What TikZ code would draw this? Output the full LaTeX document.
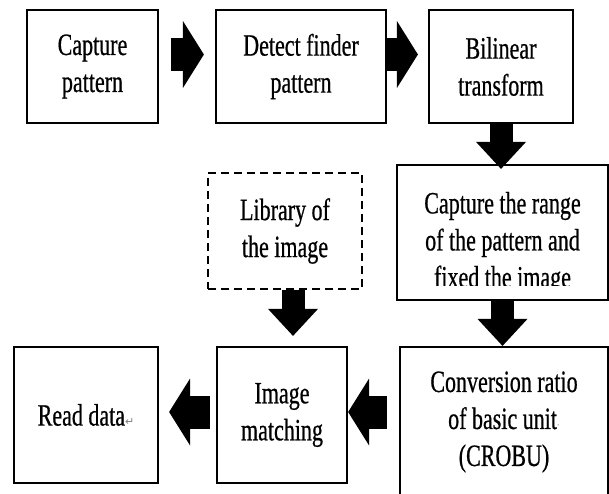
\documentclass[tikz,border=0pt]{standalone}
\usepackage{fontspec}
\usepackage{tikz}
\usetikzlibrary{arrows.meta}
\newfontfamily\boxfont[FakeStretch=0.71,FakeBold=0.6]{Liberation Serif}
\newfontfamily\markfont{DejaVu Sans}
\tikzstyle{blocktext}=[align=center
,font=\boxfont\fontsize{31}{37}\selectfont
]
\tikzstyle{block}=[draw, blocktext
,line width=2.2pt
,inner sep=0pt
]
\tikzstyle{dashblock}=[block, line width=2.2pt, dash pattern=on 8pt off 5pt]
% fat block arrows
\tikzstyle{hfat} = [draw, line width=33pt, -{Triangle[width=67pt,length=21pt,line width=0pt]}]
\tikzstyle{vfat} = [draw, line width=23pt, -{Triangle[width=50pt,length=27pt,line width=0pt]}]

\begin{document}
\begin{tikzpicture}[x=1pt,y=-1pt]
    \clip (0,0) rectangle (609,494);
    % First we draw the boxes
    \foreach \pos/\name/\bw/\bh/\txt in {{(92.5,66.5)/cap/131/113/{Capture\\pattern}},
        {(301,66.5)/detect/170/113/{Detect finder\\pattern}},
        {(501,66.5)/bilin/144/113/{Bilinear\\transform}},
        {(86,415)/read/144/136/{Read data{\markfont\color{gray}\fontsize{11}{11}\selectfont ↵}}},
        {(282,415)/match/130/136/{Image\\matching}},
        {(504,422)/conv/208/150/{Conversion ratio\\of basic unit{\markfont\color{gray}\fontsize{9}{9}\selectfont ·}\\(CROBU)}}}
        \node[block, minimum width=\bw pt, minimum height=\bh pt] (\name) at \pos {\txt};

    \node[dashblock, minimum width=154pt, minimum height=116pt] (lib) at (285,231) {Library of\\the image};

    % the third line runs under the box edge
    \node[block, minimum width=211pt, minimum height=135pt] (range) at (502.5,232.5) {};
    \begin{scope}
        \clip (397,165) rectangle (608,285);
        \node[blocktext] (rangetext) at (502.5,243) {Capture the range\\of the pattern and\\fixed the image};
    \end{scope}

    % Connect boxes with arrows
    \path[hfat, shorten <=12pt, shorten >=11pt] ([yshift=12pt]cap.east) -- ([yshift=12pt]detect.west);
    \path[hfat, shorten >=10pt] ([yshift=12pt]detect.east) -- ([yshift=12pt]bilin.west);
    \path[vfat, shorten >=-5pt] (bilin.south) -- (bilin.south |- range.north);
    \path[vfat] (range.south) -- (range.south |- conv.north);
    \path[vfat, shorten >=10pt] ([xshift=8pt]lib.south) -- ([xshift=8pt]lib.south |- match.north);
    \path[hfat, shorten <=12pt] ([yshift=3pt]match.east -| conv.west) -- ([yshift=3pt]match.east);
    \path[hfat, shorten <=6pt, shorten >=10pt] ([yshift=3pt]match.west) -- ([yshift=3pt]match.west -| read.east);
\end{tikzpicture}
\end{document}
